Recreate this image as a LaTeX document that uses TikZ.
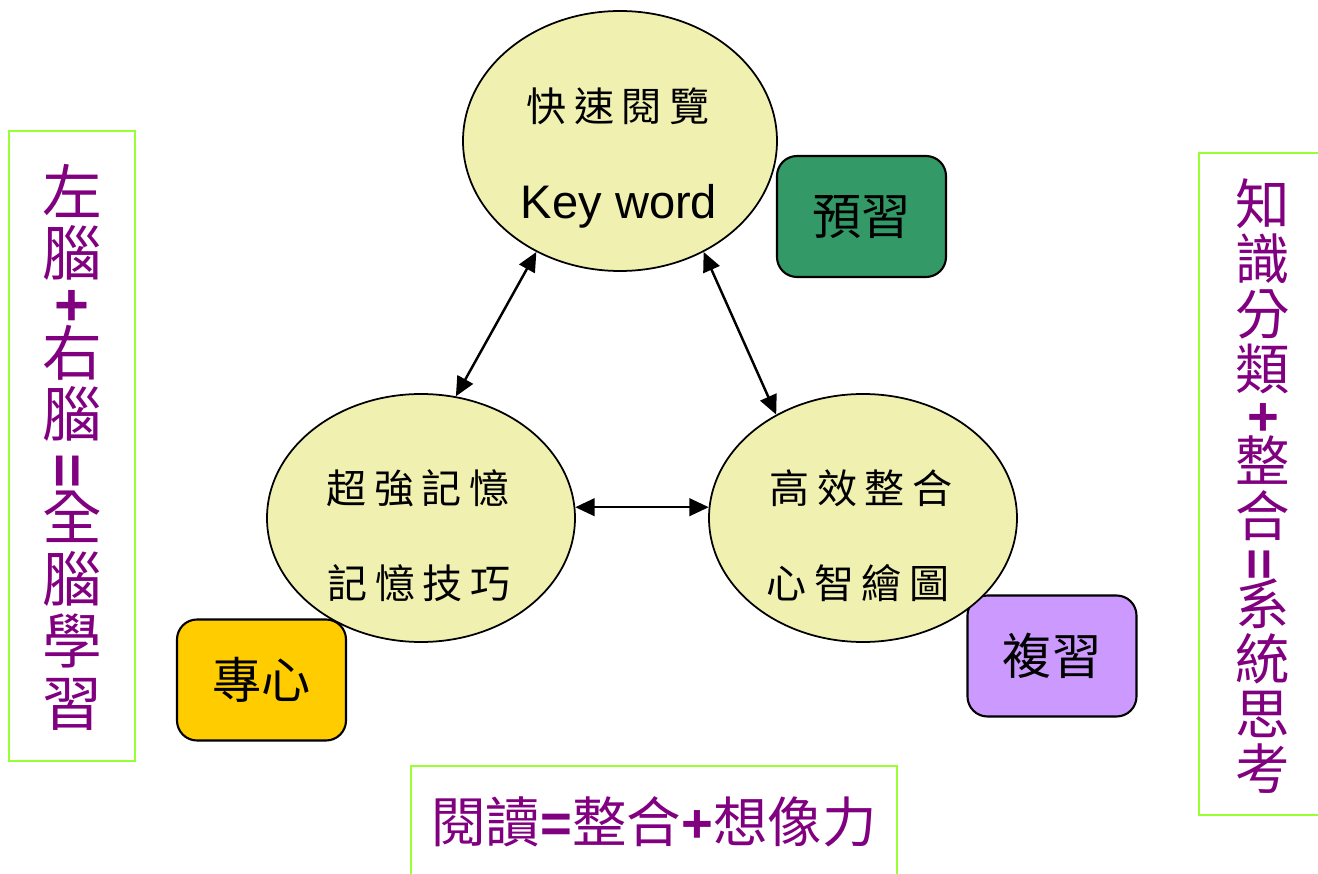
\documentclass[tikz,border=0pt]{standalone}
\usepackage{fontspec}
\setmainfont{Liberation Sans}
\newfontfamily\cjk{Noto Sans CJK TC}
\newfontfamily\cjkancho[LetterSpace=19]{Noto Sans CJK TC}
\usepackage{xcolor}
\usetikzlibrary{shapes, arrows, positioning, arrows.meta}
\definecolor{amarillo}{RGB}{240,240,176}
\definecolor{verdeosc}{RGB}{51,153,102}
\definecolor{lila}{RGB}{204,153,255}
\definecolor{oro}{RGB}{255,204,0}
\definecolor{morado}{RGB}{128,0,128}
\definecolor{lima}{RGB}{153,255,51}

\begin{document}
\begin{tikzpicture}[
    elipse/.style={ellipse, draw, fill=amarillo, line width=0.5pt, inner sep=0pt},
    caja/.style={rectangle, rounded corners=0.2cm, draw, line width=0.6pt,
      minimum width=1.69cm, minimum height=1.21cm, font=\cjk\fontsize{14}{14}\selectfont},
    marco/.style={draw=lima, line width=0.8pt},
    morada/.style={text=morado, align=center, inner sep=0pt},
    lema/.style={font=\cjkancho\fontsize{11.4}{12}\selectfont, inner sep=0pt},
    flecha/.style={<->, >={Triangle[length=5.5pt,width=5pt]}, line width=0.7pt}
  ]
  \useasboundingbox (0,0) rectangle (13.18,8.74);
  \clip (0,0) rectangle (13.18,8.74);

  % Marcos verdes
  \draw[marco] (0.09,1.13) rectangle (1.35,7.43);
  \draw[marco] (11.99,0.59) rectangle (13.40,7.21);
  \draw[marco] (4.11,-0.20) rectangle (8.97,1.08);

  % Textos morados
  \node[morada, font=\cjk\fontsize{17}{17.6}\selectfont] (izqtexto) at (0.72,4.27)
    {左\\腦\\[-3.5pt]{\rmfamily\bfseries +}\\[-3.5pt]右\\腦\\[-3pt]%
     \rotatebox{90}{\rmfamily\bfseries =}\\[-3pt]全\\腦\\學\\習};
  \node[morada, font=\cjk\fontsize{15.5}{15.6}\selectfont] (dertexto) at (12.63,3.88)
    {知\\識\\分\\類\\[-2.5pt]{\rmfamily\bfseries +}\\[-2.5pt]整\\合\\[-3pt]%
     \rotatebox{90}{\rmfamily\bfseries =}\\[-3pt]系\\統\\思\\考};
  \node[morada, font=\cjk\fontsize{15.5}{15.6}\selectfont] (abajotexto) at (6.54,0.52)
    {閱讀{\rmfamily\bfseries =}整合{\rmfamily\bfseries +}想像力};

  % Cajas
  \node[caja, fill=verdeosc] (preview) at (8.615,6.575) {預習};
  \node[caja, fill=oro] (focus) at (2.615,1.94) {專心};
  \node[caja, fill=lila] (review) at (10.52,2.18) {複習};

  % Elipses
  \node[elipse, minimum width=3.14cm, minimum height=2.60cm] (sup) at (6.20,7.33) {};
  \node[elipse, minimum width=3.08cm, minimum height=2.48cm] (izq) at (4.21,3.56) {};
  \node[elipse, minimum width=3.08cm, minimum height=2.48cm] (der) at (8.63,3.56) {};

  \node[lema] (sup1) at (6.18,7.68) {快速閱覽};
  \node[font=\fontsize{13.4}{14}\selectfont, inner sep=0pt] (sup2) at (6.19,6.68) {Key word};
  \node[lema] (izq1) at (4.18,3.86) {超強記憶};
  \node[lema] (izq2) at (4.19,2.91) {記憶技巧};
  \node[lema] (der1) at (8.61,3.86) {高效整合};
  \node[lema] (der2) at (8.58,2.91) {心智繪圖};

  % Flechas
  \draw[flecha] (izq.74) -- (sup.233.5);
  \draw[flecha] (sup.307) -- (der.130);
  \draw[flecha] (izq.4) -- (der.176);
\end{tikzpicture}
\end{document}
